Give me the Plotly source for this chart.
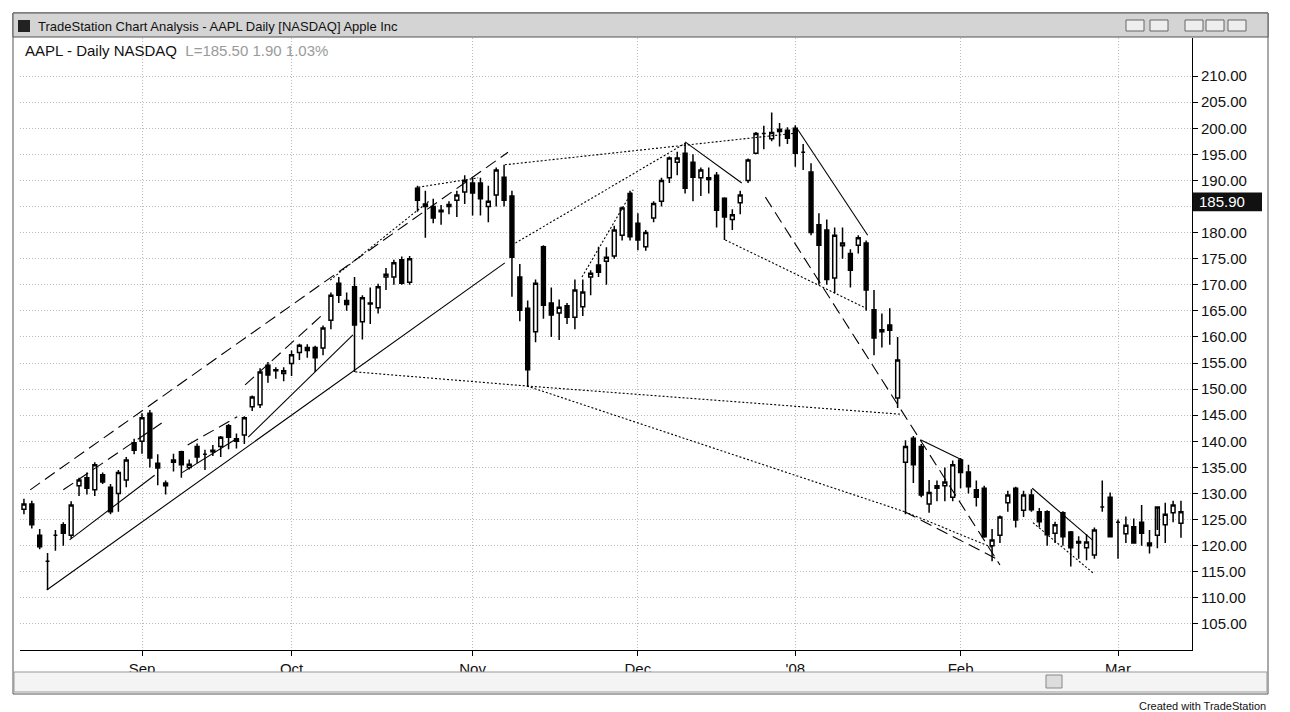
import pandas as pd
import plotly.graph_objects as go

# trading days shown on the chart (Aug 13 2007 .. Mar 14 2008)
holidays = ["2007-09-03", "2007-11-22", "2007-12-25", "2008-01-01", "2008-01-21", "2008-02-18"]
dates = [d for d in pd.bdate_range("2007-08-13", "2008-03-14") if d.strftime("%Y-%m-%d") not in holidays]

opens = [127, 128, 122, 117, 122, 124, 122, 131.5, 133, 130.7, 133.6, 131.2, 130, 132.6, 139.7,
         140, 145.4, 135.8, 132, 136.4, 138, 135, 139, 137.5, 138, 139, 143, 140, 141.2, 146.6, 147, 154.6, 153.5, 153,
         154.9, 157, 158, 158, 157.9, 163.2, 170.3, 167, 169.6, 162.9, 166.5, 165.6, 171.5, 171.5, 174.8, 170.5,
         188.5, 185, 185, 184, 185, 186.2, 187.8, 189.5, 189.5, 185, 187.2, 190.6, 187, 171.5, 165.5,
         161, 177.3, 166.5, 164.6, 166, 163.8, 165.8, 171.5, 173.8, 174.5, 175.5, 179.5, 187.5,
         181.8, 177.3, 182.8, 186, 190.5, 193.5, 195.2, 193.5, 190.5, 190.5, 191, 186.6, 182.5, 185.7,
         190, 195.2, 199, 198, 199.8, 199.6,
         200, 195.4, 191.6, 181.5, 180.5, 171.3, 177.5, 176, 177.6, 178, 165.2, 161, 162.3,
         148.3, 136, 140.6, 139, 128, 131, 131.5, 129.3, 136.4, 134.1, 130.7, 131, 120, 122, 128.2, 131,
         126.8, 129.7, 126.5, 126.5, 122.4, 126.3, 122.6, 120.5, 119.6, 118.2, 127.4, 129.3,
         124.5, 122.3, 123.6, 124.5, 120.5, 122, 124, 126.3, 124.3, 129.7]
highs = [129, 128.6, 123.2, 118.6, 123, 124.5, 128.5, 133, 134, 136, 134, 131.8, 134.5, 137, 140.5,
         145.4, 146, 137.5, 132.5, 137.6, 138.2, 136.5, 139.6, 138.4, 139.3, 141, 143.3, 141.5, 144.8, 148.8, 154, 155.2, 154.2, 154.2,
         157.4, 158.7, 158.6, 158.3, 162.2, 168.5, 171.5, 168.5, 171.5, 168, 169.5, 170.2, 173.2, 174.8, 175.4, 175.5,
         189, 188, 186.5, 185.3, 186, 188, 191, 190.5, 190.5, 189, 192.5, 193, 188, 174, 167,
         171, 177.6, 169.5, 167.2, 166.5, 171, 171, 172.8, 177.3, 177.2, 181.3, 185, 188,
         183.7, 180.5, 186, 190.5, 194.6, 195.5, 197.2, 195, 192.5, 192.5, 191.6, 186.8, 184.5, 188,
         194.2, 199.3, 200.5, 203, 201, 200.2,
         200.6, 197, 193.3, 183.7, 182.5, 181, 181, 176.8, 179.5, 178.5, 169, 164.5, 165.5,
         160, 140.2, 141, 139.5, 132.6, 132.5, 135, 136.3, 136.8, 135.5, 132.5, 131.5, 123.2, 125.8, 130.5, 131.3,
         130.5, 130.8, 127.2, 126.8, 124.6, 126.6, 122.8, 121.8, 122.2, 123.5, 132.5, 130.2,
         125, 125.6, 125.2, 127.8, 123, 123, 128.2, 128.6, 128.6, 130.8]
lows = [126, 123.3, 119.3, 111.5, 119, 120, 121.3, 129.5, 129.8, 129.5, 131.8, 126, 126.5, 131.2, 137.5,
        137.6, 135, 131.6, 129.8, 134.2, 133, 134.6, 135.8, 134.5, 137.2, 137, 138.5, 138.6, 139.5, 145.8, 146.4, 151.2, 152, 151.5,
        152.5, 155.6, 156, 153.3, 156.5, 161.5, 166.5, 165, 153.3, 159.5, 162.5, 164.5, 169, 170, 170, 170,
        184, 179, 181.8, 181.5, 183.5, 183, 185.5, 183.3, 183.3, 182, 185, 185, 167.7, 163, 150.4,
        159, 163.5, 160, 159.4, 162.5, 161.5, 164, 168, 171.5, 170, 175, 178.5, 178.5,
        176.6, 176.5, 182, 185, 189.5, 191, 187.5, 186, 187, 187.5, 181, 178.6, 180.5, 183.5,
        189.5, 195, 196, 197.5, 196.5, 197,
        192.6, 192, 179.5, 170, 170, 168.4, 175, 169.5, 176, 165, 156.5, 158, 158.5,
        146.4, 126, 132, 129.3, 126.3, 128.5, 128.5, 128.5, 131, 130, 127.5, 121.5, 117, 120.5, 126.5, 123.5,
        125.5, 126.5, 123.5, 120, 120.5, 120, 116, 117.5, 117.2, 117.5, 126.5, 124,
        117.5, 120.5, 121.5, 120, 118.5, 119.5, 120.5, 124.5, 121.5, 124.5]
closes = [128, 124, 119.8, 117, 122, 122.4, 127.8, 132.6, 131, 135.5, 132.2, 126.5, 134, 136.4, 138.3,
          144.5, 136.8, 134.9, 131.5, 136, 135.5, 135.6, 137, 137.5, 138.3, 140.8, 140.8, 140.5, 144.5, 148.5, 153.3, 152.7, 153.7, 153.5,
          156.6, 158.4, 157.4, 156, 161.7, 168, 168, 166.2, 162.3, 167.5, 166.3, 169.6, 172, 174.2, 170.3, 175,
          186.2, 185.5, 182.8, 184.3, 185.4, 187.2, 190, 187.6, 186.5, 186, 192, 186.2, 175.3, 165.1, 153.7,
          170.3, 166.1, 164.2, 165.7, 163.8, 169, 168.6, 172.2, 172.4, 175.3, 180.5, 184.7, 179.2,
          178.6, 180, 185.6, 190, 194.3, 194.3, 188.5, 190.6, 192, 190.2, 184.3, 183, 183.4, 187.2,
          193.9, 199, 199, 199.2, 199.4, 198.1,
          195.2, 195.4, 180, 177.6, 171, 179.5, 178, 172.8, 179, 169, 159.8, 161.4, 161.3,
          155.6, 139, 135.5, 129.7, 130.2, 131.5, 132.2, 135.5, 134, 131.3, 129.3, 121.7, 121.1, 125.5, 129.7,
          124.9, 129.7, 126.9, 124.6, 122.1, 124, 121.7, 119.6, 120.8, 120.7, 123, 127.4,
          121.7, 124.5, 123.9, 120.5, 122.4, 120, 127.4, 126, 127.8, 126.5]

# month tick labels
month_labels = ["Sep", "Oct", "Nov", "Dec", "'08", "Feb", "Mar"]
month_starts = ["2007-09", "2007-10", "2007-11", "2007-12", "2008-01", "2008-02", "2008-03"]

# price axis labels (185 sits under the last-price marker)
price_ticks = list(range(105, 211, 5))
price_labels = ["" if p == 185 else f"{p:.2f}" for p in price_ticks]
last_price = 185.90

# trend lines drawn on the chart: (bar start, price start, bar end, price end, style)
trend_x0 = [2.9, 5.8, 20.1, 28.5, 84, 98.2, 113.9, 128.1,
            0.8, 5, 20.8, 28.1, 94.2, 111.9,
            50.1, 61.1, 62, 42.1, 63.9, 63.9, 111.9, 89.1, 128.2, 38.9, 70.9]
trend_y0 = [111.5, 121.1, 134, 140.8, 197.4, 200, 140.3, 131,
            130.7, 130.7, 139.3, 150.8, 186.8, 126.5,
            188.7, 193, 177.6, 153.3, 150.6, 150.6, 126.5, 178.6, 124.4, 170.9, 171.5]
trend_x1 = [61.1, 16.6, 27.1, 41.8, 91.2, 107.2, 119.2, 135.8,
            61.5, 17.5, 27.1, 37.9, 124, 123.4,
            57.7, 98.3, 84.1, 63.9, 111.3, 111.9, 123.1, 107, 135.8, 51.6, 77.4]
trend_y1 = [174.2, 133.5, 140.6, 160.4, 189.5, 179.5, 136.4, 121,
            195.4, 143.5, 144.7, 164.2, 116.3, 117.6,
            190.5, 199.1, 197.2, 150.6, 145.2, 126.5, 119.6, 165.5, 114.8, 186.2, 188.2]
trend_style = ["solid"] * 8 + ["dash"] * 6 + ["dot"] * 11

W, H = 1290, 712
OFF = 8  # page offset of the figure in the browser window
L, R, T, B = 20, 1192, 38, 650


def px(x):
    return (x - L) / (R - L)


def py(y):
    return (B - y) / (B - T)


xs = list(range(len(dates)))
date_str = [d.strftime("%Y-%m") for d in dates]
tickvals = [date_str.index(m) for m in month_starts]

fig = go.Figure()

fig.add_trace(go.Candlestick(
    x=xs, open=opens, high=highs, low=lows, close=closes,
    increasing=dict(line=dict(color="black", width=1.5), fillcolor="white"),
    decreasing=dict(line=dict(color="black", width=1.5), fillcolor="black"),
    whiskerwidth=0, showlegend=False, hoverinfo="skip",
))

for x0, y0, x1, y1, st in zip(trend_x0, trend_y0, trend_x1, trend_y1, trend_style):
    fig.add_trace(go.Scatter(
        x=[x0, x1], y=[y0, y1], mode="lines", showlegend=False, hoverinfo="skip",
        line=dict(color="black", width=1.1, dash={"solid": "solid", "dash": "12px,6px", "dot": "2px,2px"}[st]),
    ))

shapes = [
    # outer frame and title bar
    dict(type="rect", xref="paper", yref="paper", x0=px(13), x1=px(1268), y0=py(694), y1=py(13),
         line=dict(color="#555", width=1), fillcolor="rgba(0,0,0,0)", layer="below"),
    dict(type="rect", xref="paper", yref="paper", x0=px(13), x1=px(1268), y0=py(37), y1=py(13),
         line=dict(color="#555", width=1), fillcolor="#d4d4d4"),
    dict(type="rect", xref="paper", yref="paper", x0=px(18), x1=px(30), y0=py(32), y1=py(20),
         line=dict(width=0), fillcolor="#222"),
    # scroll bar
    dict(type="rect", xref="paper", yref="paper", x0=px(14), x1=px(1267), y0=py(692), y1=py(672),
         line=dict(color="#999", width=1), fillcolor="#f4f4f4"),
    dict(type="rect", xref="paper", yref="paper", x0=px(1046), x1=px(1062), y0=py(688), y1=py(675),
         line=dict(color="#888", width=1), fillcolor="#ddd"),
    # price marker
    dict(type="rect", xref="paper", yref="y", x0=px(1193), x1=px(1262), y0=last_price - 1.8, y1=last_price + 1.8,
         line=dict(width=0), fillcolor="#111"),
]
for bx in [1126, 1150, 1185, 1206, 1228]:
    shapes.append(dict(type="rect", xref="paper", yref="paper", x0=px(bx), x1=px(bx + 18), y0=py(31), y1=py(20),
                       line=dict(color="#666", width=1), fillcolor="#eee"))

annotations = [
    dict(text="TradeStation Chart Analysis - AAPL Daily [NASDAQ] Apple Inc", xref="paper", yref="paper",
         x=px(36), y=py(26), xanchor="left", yanchor="middle", showarrow=False,
         font=dict(family="Liberation Sans, Arial", size=13, color="#111")),
    dict(text="AAPL - Daily NASDAQ  <span style='color:#9a9a9a'>L=185.50 1.90 1.03%</span>", xref="paper", yref="paper",
         x=px(23), y=py(50), xanchor="left", yanchor="middle", showarrow=False,
         font=dict(family="Liberation Sans, Arial", size=15, color="#111")),
    dict(text=f"{last_price:.2f}", xref="paper", yref="y", x=px(1197), y=last_price, xanchor="left", yanchor="middle",
         showarrow=False, font=dict(family="Liberation Sans, Arial", size=15, color="white")),
    dict(text="Created with TradeStation", xref="paper", yref="paper", x=px(1268), y=py(706),
         xanchor="right", yanchor="middle", showarrow=False,
         font=dict(family="Liberation Sans, Arial", size=11, color="#111")),
]

fig.update_layout(
    width=W, height=H,
    margin=dict(l=L - OFF, r=W - R + OFF, t=T - OFF, b=H - B + OFF),
    paper_bgcolor="white", plot_bgcolor="white",
    shapes=shapes, annotations=annotations,
    xaxis=dict(range=[-0.5, 148.4], tickvals=tickvals, ticktext=month_labels, rangeslider=dict(visible=False),
               showgrid=True, gridcolor="#bbb", griddash="1px,2px", gridwidth=1, ticks="outside", ticklen=5,
               tickcolor="black", showline=True, linecolor="black", zeroline=False,
               tickfont=dict(family="Liberation Sans, Arial", size=15, color="#111")),
    yaxis=dict(side="right", range=[100, 217.3], tickvals=price_ticks, ticktext=price_labels,
               showgrid=True, gridcolor="#bbb", griddash="1px,2px", gridwidth=1, ticks="outside", ticklen=5,
               tickcolor="black", showline=True, linecolor="black", zeroline=False,
               tickfont=dict(family="Liberation Sans, Arial", size=15, color="#111")),
)

fig.write_html("out.html")
